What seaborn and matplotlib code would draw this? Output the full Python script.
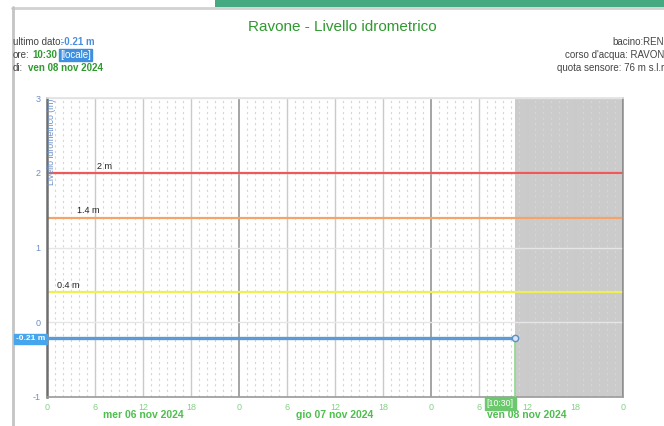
import matplotlib
matplotlib.use("Agg")
import matplotlib.pyplot as plt
import numpy as np
import pandas as pd
import seaborn as sns
from matplotlib.patches import Rectangle
from matplotlib.lines import Line2D

# hours since mer 06 nov 2024 00:00
level_hours = [0, 6, 12, 18, 24, 30, 36, 42, 48, 54, 58.5]
level_m = [-0.21, -0.21, -0.21, -0.21, -0.21, -0.21, -0.21, -0.21, -0.21, -0.21, -0.21]
last_hour = 58.5
last_value = -0.21

threshold_values = [2.0, 1.4, 0.4]
threshold_labels = ["2 m", "1.4 m", "0.4 m"]
threshold_colors = ["#ee5a5a", "#f4a468", "#eeee55"]
threshold_label_x = [6.2, 3.8, 1.2]

tick_hours = list(range(0, 73, 6))
tick_labels = ["0", "6", "12", "18"] * 3 + ["0"]
day_labels = ["mer 06 nov 2024", "gio 07 nov 2024", "ven 08 nov 2024"]
day_centers = [12, 36, 60]

sns.set_style("white")
plt.rcParams["font.family"] = ["Liberation Sans Narrow", "Liberation Sans", "DejaVu Sans"]

W, H = 664, 426
fig = plt.figure(figsize=(W / 100, H / 100), dpi=100)
fig.patch.set_facecolor("white")


def fx(px):
    return px / W


def fy(py):
    return 1 - py / H


# page decorations: header image strip and panel border
fig.patches.append(Rectangle((fx(215), fy(7)), fx(449), 7 / H, transform=fig.transFigure,
                             facecolor="#45a981", edgecolor="none"))
fig.lines.append(Line2D([fx(12), 1], [fy(7.5), fy(7.5)], transform=fig.transFigure,
                        color="#d2d2d2", lw=2))
fig.lines.append(Line2D([fx(12.5), fx(12.5)], [fy(7), 0], transform=fig.transFigure,
                        color="#c4c4c4", lw=2))

ax = fig.add_axes([fx(47), 1 - 397 / H, fx(576), 299 / H])
ax.set_xlim(0, 72)
ax.set_ylim(-1, 3)

# future region
ax.axvspan(last_hour, 72, color="#cbcbcb", lw=0, zorder=0)

# grid
for h in range(0, 73):
    if h % 24 == 0:
        ax.axvline(h, color="#8c8c8c", lw=1.1, zorder=1)
    elif h % 6 == 0:
        ax.axvline(h, color="#cacaca", lw=1.0, zorder=1)
    else:
        ax.axvline(h, color="#d6d6d6", lw=0.8, ls=(0, (2, 3)), zorder=1)
for v in range(-1, 4):
    ax.axhline(v, color="#e6e6e6", lw=1, zorder=1)

# thresholds
for val, lab, col, lx in zip(threshold_values, threshold_labels, threshold_colors, threshold_label_x):
    ax.axhline(val, color=col, lw=1.6, zorder=2)
    ax.text(lx, val + 0.03, lab, fontsize=6.5, color="#222222", ha="left", va="bottom", zorder=5)

# data series
df = pd.DataFrame({"ora": level_hours, "livello": level_m})
sns.lineplot(data=df, x="ora", y="livello", ax=ax, color="#5b9bd8", lw=2.4, zorder=4)
ax.plot([last_hour, last_hour], [-1, last_value], color="#8fd68f", lw=1.2, zorder=3)
ax.plot([last_hour], [last_value], marker="o", ms=4.5, mfc="#d8e6f5", mec="#5b8fc8", mew=1, zorder=5)

# axes styling
ax.set_xlabel("")
ax.set_ylabel("")
ax.set_xticks(tick_hours)
ax.set_xticklabels(tick_labels)
ax.set_yticks([-1, 0, 1, 2, 3])
ax.set_yticklabels(["-1", "0", "1", "2", "3"])
ax.tick_params(axis="x", colors="#888888", labelcolor="#86cf86", labelsize=6.5, length=4, width=1, pad=0.5)
ax.tick_params(axis="y", colors="#888888", labelcolor="#6d8fc4", labelsize=6.5, length=3, width=1, pad=1.5)
for side, col, lw in [("left", "#6e6e6e", 1.8), ("bottom", "#9a9a9a", 1.2),
                      ("right", "#8c8c8c", 1.1), ("top", "#e2e2e2", 1.2)]:
    ax.spines[side].set_visible(True)
    ax.spines[side].set_color(col)
    ax.spines[side].set_linewidth(lw)

ax.text(0.6, 2.99, "Livello idrometrico (m)", rotation=90, ha="center", va="top",
        fontsize=6.3, color="#6a8fc4", zorder=5)

# day labels below the axis
for c, lab in zip(day_centers, day_labels):
    ax.text(c, -1.235, lab, ha="center", va="center", fontsize=7.5, fontweight="bold",
            color="#4cbf4c", clip_on=False)

# last reading boxes
ax.text(last_hour - 0.15, -1.09, "[10:30]", ha="right", va="center", fontsize=6.3, color="white",
        clip_on=False, zorder=6,
        bbox=dict(boxstyle="square,pad=0.22", facecolor="#6cc86c", edgecolor="#6cc86c"))
fig.text(fx(45), fy(339), "-0.21 m", ha="right", va="center", fontsize=6, fontweight="bold",
         color="white", bbox=dict(boxstyle="square,pad=0.2", facecolor="#45a6ee", edgecolor="#45a6ee"))

# title and info text
fig.text(fx(342), fy(27), "Ravone - Livello idrometrico", ha="center", va="center",
         fontsize=11, color="#2f9a2f")
info = dict(fontsize=7, va="center")
fig.text(fx(13), fy(42), "ultimo dato:", color="#444444", **info)
fig.text(fx(61), fy(42), "-0.21 m", color="#4a8fdc", fontweight="bold", **info)
fig.text(fx(13), fy(55), "ore:", color="#444444", **info)
fig.text(fx(32), fy(55), "10:30", color="#2e9a2e", fontweight="bold", **info)
fig.text(fx(60), fy(55), "[locale]", color="white", bbox=dict(boxstyle="square,pad=0.1",
         facecolor="#3f8fe0", edgecolor="#3f8fe0"), **info)
fig.text(fx(13), fy(68), "di:", color="#444444", **info)
fig.text(fx(28), fy(68), "ven 08 nov 2024", color="#2e9a2e", fontweight="bold", **info)
fig.text(fx(664), fy(42), "bacino:REN", ha="right", color="#444444", **info)
fig.text(fx(664), fy(55), "corso d'acqua: RAVON", ha="right", color="#444444", **info)
fig.text(fx(664), fy(68), "quota sensore: 76 m s.l.r", ha="right", color="#444444", **info)

fig.savefig("out.png", dpi=100, facecolor="white")
